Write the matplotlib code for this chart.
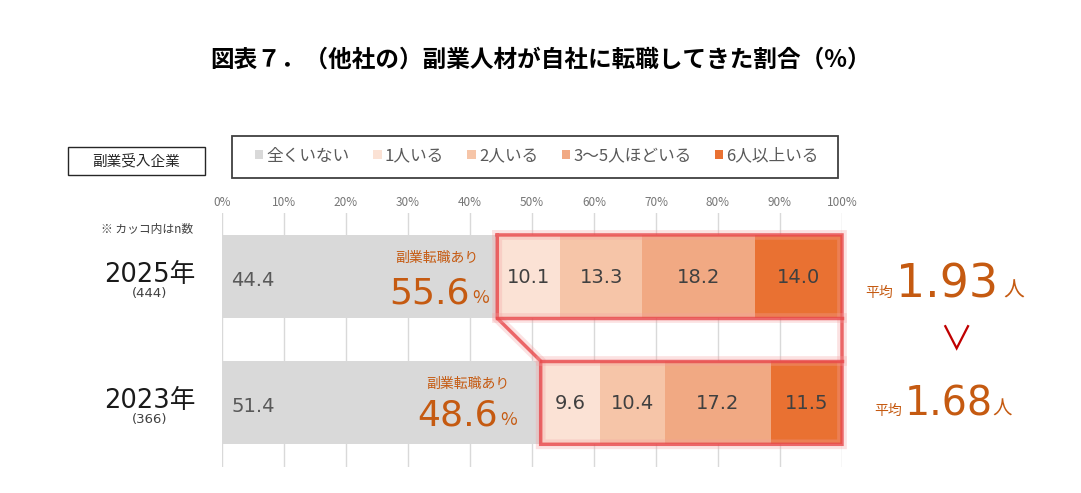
import matplotlib
matplotlib.use('Agg')
import matplotlib.pyplot as plt
import matplotlib.patheffects as pe
from matplotlib.patches import Rectangle

plt.rcParams['font.family'] = ['Noto Sans CJK JP', 'DejaVu Sans']
NUM_FONT = ['DejaVu Sans', 'Noto Sans CJK JP']

# data
years = ['2025年', '2023年']
n_counts = ['(444)', '(366)']
categories = ['全くいない', '1人いる', '2人いる', '3～5人ほどいる', '6人以上いる']
values_2025 = [44.4, 10.1, 13.3, 18.2, 14.0]
values_2023 = [51.4, 9.6, 10.4, 17.2, 11.5]
side_job = [55.6, 48.6]
averages = [1.93, 1.68]
xticks = list(range(0, 101, 10))

colors = ['#d9d9d9', '#fbe2d5', '#f6c5a8', '#f1a983', '#e97132']
orange = '#c55a11'
W, H = 1081, 493


def fx(x):
    return x / W


def fy(y):
    return 1 - y / H


fig = plt.figure(figsize=(W / 100, H / 100), dpi=100)
ax = fig.add_axes([fx(222), fy(467), fx(842) - fx(222), fy(213) - fy(467)])

rows = [values_2025, values_2023]
ypos = [0, 1]
h = 0.66
handles = []
for j, cat in enumerate(categories):
    vals = [r[j] for r in rows]
    lefts = [sum(r[:j]) for r in rows]
    bars = ax.barh(ypos, vals, left=lefts, height=h, color=colors[j],
                   label=cat, zorder=2, linewidth=0)
    handles.append(bars)
    for y, v, l in zip(ypos, vals, lefts):
        if j == 0:
            ax.text(l + 1.5, y + 0.03, f'{v:.1f}', ha='left', va='center',
                    fontsize=14, color='#595959', zorder=4, family=NUM_FONT)
        else:
            ax.text(l + v / 2, y + 0.01, f'{v:.1f}', ha='center', va='center',
                    fontsize=14, color='#404040', zorder=4, family=NUM_FONT)

ax.set_xlim(0, 100)
ax.set_ylim(1.51, -0.504)
ax.set_xticks(xticks)
ax.set_xticklabels([f'{t}%' for t in xticks], fontsize=8.5, color='#767676')
ax.xaxis.tick_top()
ax.tick_params(axis='x', length=0, pad=3)
ax.set_yticks([])
ax.grid(axis='x', color='#d9d9d9', lw=1, zorder=0)
ax.set_axisbelow(True)
for s in ax.spines.values():
    s.set_visible(False)

# highlight outline around the "has side-job hires" part
g25, g23 = values_2025[0], values_2023[0]
t0, b0 = ypos[0] - h / 2, ypos[0] + h / 2
t1, b1 = ypos[1] - h / 2, ypos[1] + h / 2
glow = [pe.Stroke(linewidth=7, foreground='#f4a0a0', alpha=0.3), pe.Normal()]
line_kw = dict(color='#e8474a', lw=2.5, alpha=0.8, zorder=5, clip_on=False,
               solid_joinstyle='miter', path_effects=glow)
ax.plot([g25, 100, 100, g23, g23, g25, g25], [t0, t0, b1, b1, t1, b0, t0], **line_kw)
ax.plot([g25, 100], [b0, b0], **line_kw)
ax.plot([g23, 100], [t1, t1], **line_kw)

# side-job share labels
label_x = [34.7, 39.7]
num_x = [40.0, 44.5]
num_base = [0.21, 0.179]
for i, y in enumerate(ypos):
    ax.text(label_x[i], y - 0.147, '副業転職あり', ha='center', va='center',
            fontsize=10, color=orange, zorder=4)
    ax.text(num_x[i], y + num_base[i], f'{side_job[i]:.1f}', ha='right',
            va='baseline', fontsize=26, color=orange, zorder=4, family=NUM_FONT)
    ax.annotate('%', xy=(num_x[i], y + num_base[i]), xytext=(1.5, 0),
                textcoords='offset points', ha='left', va='baseline',
                fontsize=13, color=orange, zorder=4)

# left labels
fig.text(fx(147), fy(229), '※ カッコ内はn数', ha='center', va='center',
         fontsize=8.5, color='#404040')
year_base = [282, 408]
for i in range(2):
    fig.text(fx(150), fy(year_base[i]), years[i], ha='center', va='baseline',
             fontsize=18.5, color='#1a1a1a', family=NUM_FONT)
    fig.text(fx(150), fy(year_base[i] + 11), n_counts[i], ha='center',
             va='center', fontsize=9.5, color='#404040', family=NUM_FONT)

# averages on the right
avg_base = [297, 415]
avg_left = [896, 905]
avg_size = [33, 28.5]
unit_left = [1003, 992]
for i in range(2):
    fig.text(fx(avg_left[i]), fy(avg_base[i]), f'{averages[i]:.2f}', ha='left',
             va='baseline', fontsize=avg_size[i], color=orange, family=NUM_FONT)
    fig.text(fx(avg_left[i] - 3), fy(avg_base[i]), '平均', ha='right',
             va='baseline', fontsize=10, color=orange)
    fig.text(fx(unit_left[i]), fy(avg_base[i]), '人', ha='left',
             va='baseline', fontsize=15 - i, color=orange)
fig.text(fx(956), fy(340), '∨', ha='center', va='center', fontsize=24,
         color='#c00000')

# legend
fig.legend(handles, categories, loc='center', bbox_to_anchor=(fx(537), fy(156)),
           ncol=5, frameon=False, fontsize=12, handlelength=0.5,
           handleheight=0.5, handletextpad=0.2, columnspacing=1.4,
           labelcolor='#595959')
fig.add_artist(Rectangle((fx(232), fy(178)), fx(838) - fx(232), fy(136) - fy(178),
                         fill=False, edgecolor='#404040', lw=1.3,
                         transform=fig.transFigure))
fig.add_artist(Rectangle((fx(68), fy(175)), fx(205) - fx(68), fy(147) - fy(175),
                         fill=False, edgecolor='#262626', lw=1.0,
                         transform=fig.transFigure))
fig.text(fx(136), fy(161), '副業受入企業', ha='center', va='center',
         fontsize=10.5, color='#262626')

# title
fig.text(fx(541), fy(60), '図表７．（他社の）副業人材が自社に転職してきた割合（%）',
         ha='center', va='center', fontsize=17, fontweight='bold', color='#000000')

fig.savefig('out.png', dpi=100)
